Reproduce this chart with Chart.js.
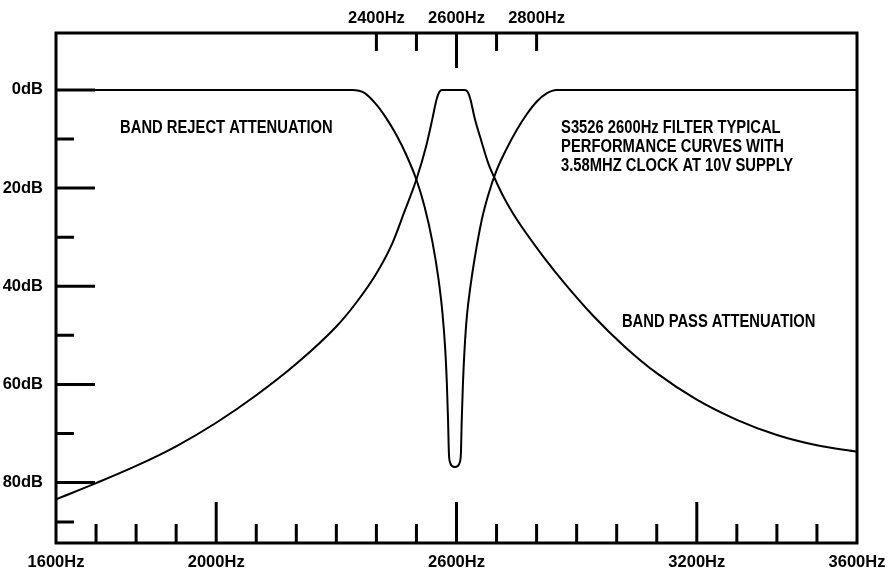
<!DOCTYPE html>
<html>
<head>
<meta charset="utf-8">
<script src="https://cdn.jsdelivr.net/npm/chart.js@4.4.1/dist/chart.umd.min.js"></script>
<style>
  body { margin: 0; background: #fff; }
  #wrap { width: 888px; height: 573px; position: relative; }
</style>
</head>
<body>
<div id="wrap"><canvas id="filterChart"></canvas></div>
<script>
// Values: frequency in Hz, attenuation in dB
const bandPassFreq = [1600, 1700, 1800, 1900, 2000, 2100, 2200, 2300, 2350, 2400, 2440, 2470, 2500, 2525, 2540, 2550, 2557, 2565,
    2620, 2628, 2635, 2645, 2662, 2680, 2697, 2715, 2740, 2775, 2820, 2870, 2940, 3020, 3100, 3200, 3300, 3400, 3500, 3600];
const bandPassDb = [83.4, 80.1, 76.6, 72.6, 67.8, 62.2, 55.8, 48.2, 43.3, 37.4, 31.2, 24.8, 18.2, 11.2, 5.8, 2.0, 0.4, 0,
    0, 0.4, 2.0, 5.6, 10.4, 15.1, 18.3, 21.4, 25.0, 29.3, 34.3, 39.4, 45.9, 52.3, 57.7, 63.1, 67.2, 70.3, 72.4, 73.7];

const bandRejectFreq = [1600, 2340, 2370, 2400, 2425, 2450, 2475, 2500, 2520, 2540, 2555, 2565, 2572, 2576, 2579, 2581, 2584,
    2589, 2596, 2603, 2608, 2611, 2613, 2616, 2620, 2626, 2634, 2645, 2663, 2680, 2700, 2725, 2750, 2775, 2800, 2825, 2850, 3600];
const bandRejectDb = [0, 0, 0.6, 3.0, 5.8, 9.2, 13.3, 18.3, 23.7, 31, 38.5, 45.5, 53, 60, 67.5, 74, 75.9,
    76.6, 76.8, 76.6, 75.9, 74, 67.5, 60, 53, 46, 40.5, 34.5, 26.5, 21.2, 16.4, 12.0, 8.2, 5.0, 2.4, 0.7, 0, 0];

// axis ticks
const bottomLabels = [1600, 2000, 2600, 3200, 3600];
const bottomLong = [2000, 2600, 3200];
const bottomShort = [1700, 1800, 1900, 2100, 2200, 2300, 2400, 2500, 2700, 2800, 2900, 3000, 3100, 3300, 3400, 3500];
const topLabels = [2400, 2600, 2800];
const topLong = [2600];
const topShort = [2400, 2500, 2700, 2800];
const dbLabels = [0, 20, 40, 60, 80];
const dbShort = [10, 30, 50, 70, 88];

const rejectNote = 'BAND REJECT ATTENUATION';
const passNote = 'BAND PASS ATTENUATION';
const titleNote = ['S3526 2600Hz FILTER TYPICAL', 'PERFORMANCE CURVES WITH', '3.58MHZ CLOCK AT 10V SUPPLY'];

const tickFont = { family: '"Liberation Sans", Arial, sans-serif', size: 16.5, weight: 'bold' };

// frame, inward tick marks and the notes
const frameAndNotes = {
    id: 'frameAndNotes',
    afterDatasetsDraw(chart) {
        const { ctx, chartArea: a, scales } = chart;
        const x = scales.x, y = scales.y;
        ctx.save();
        ctx.strokeStyle = '#000';
        ctx.lineWidth = 3;
        ctx.strokeRect(a.left, a.top, a.right - a.left, a.bottom - a.top);

        ctx.beginPath();
        dbLabels.forEach(v => { const p = y.getPixelForValue(v); ctx.moveTo(a.left, p); ctx.lineTo(a.left + 39, p); });
        dbShort.forEach(v => { const p = y.getPixelForValue(v); ctx.moveTo(a.left, p); ctx.lineTo(a.left + 18, p); });
        bottomLong.forEach(v => { const p = x.getPixelForValue(v); ctx.moveTo(p, a.bottom); ctx.lineTo(p, a.bottom - 41); });
        bottomShort.forEach(v => { const p = x.getPixelForValue(v); ctx.moveTo(p, a.bottom); ctx.lineTo(p, a.bottom - 19); });
        topLong.forEach(v => { const p = x.getPixelForValue(v); ctx.moveTo(p, a.top); ctx.lineTo(p, a.top + 35); });
        topShort.forEach(v => { const p = x.getPixelForValue(v); ctx.moveTo(p, a.top); ctx.lineTo(p, a.top + 18); });
        ctx.stroke();

        ctx.fillStyle = '#000';
        ctx.font = 'bold 18px "Liberation Sans", Arial, sans-serif';
        ctx.textBaseline = 'middle';
        const note = (text, f, db) => {
            ctx.save();
            ctx.translate(x.getPixelForValue(f), y.getPixelForValue(db));
            ctx.scale(0.82, 1);
            ctx.fillText(text, 0, 0);
            ctx.restore();
        };
        note(rejectNote, 1760, 7.7);
        note(passNote, 3013, 47.3);
        titleNote.forEach((t, i) => note(t, 2861, 7.7 + i * 3.9));
        ctx.restore();
    }
};

new Chart(document.getElementById('filterChart'), {
    type: 'line',
    data: {
        datasets: [{
            label: 'Band pass',
            data: bandPassFreq.map((f, i) => ({ x: f, y: bandPassDb[i] })),
            borderColor: '#000',
            cubicInterpolationMode: 'monotone'
        }, {
            label: 'Band reject',
            data: bandRejectFreq.map((f, i) => ({ x: f, y: bandRejectDb[i] })),
            borderColor: '#000',
            cubicInterpolationMode: 'monotone'
        }]
    },
    options: {
        responsive: true,
        maintainAspectRatio: false,
        animation: false,
        layout: { padding: { right: 31 } },
        elements: { point: { radius: 0 }, line: { borderWidth: 2 } },
        plugins: {
            legend: { display: false },
            tooltip: { enabled: false }
        },
        scales: {
            x: {
                type: 'linear', position: 'bottom', min: 1600, max: 3600,
                grid: { display: false, drawTicks: false },
                border: { display: false },
                afterBuildTicks: s => { s.ticks = bottomLabels.map(v => ({ value: v })); },
                afterFit: s => { s.height = 30; s.paddingLeft = 0; s.paddingRight = 0; },
                ticks: { padding: 10, color: '#000', font: tickFont, maxRotation: 0, autoSkip: false, callback: v => v + 'Hz' }
            },
            xTop: {
                axis: 'x', type: 'linear', position: 'top', min: 1600, max: 3600,
                grid: { display: false, drawTicks: false },
                border: { display: false },
                afterBuildTicks: s => { s.ticks = topLabels.map(v => ({ value: v })); },
                afterFit: s => { s.height = 33; s.paddingLeft = 0; s.paddingRight = 0; },
                ticks: { padding: 5, color: '#000', font: tickFont, maxRotation: 0, autoSkip: false, callback: v => v + 'Hz' }
            },
            y: {
                type: 'linear', reverse: true, min: -11.6, max: 92.3,
                grid: { display: false, drawTicks: false },
                border: { display: false },
                afterBuildTicks: s => { s.ticks = dbLabels.map(v => ({ value: v })); },
                afterFit: s => { s.width = 56; s.paddingTop = 0; s.paddingBottom = 0; },
                ticks: { padding: 13, color: '#000', font: tickFont, autoSkip: false, callback: v => v + 'dB' }
            }
        }
    },
    plugins: [frameAndNotes]
});
</script>
</body>
</html>
